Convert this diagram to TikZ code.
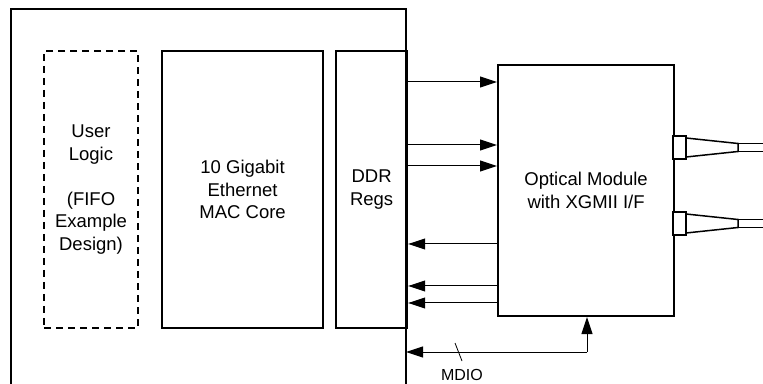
\documentclass[tikz,border=0pt]{standalone}
\usepackage{fontspec}
\setmainfont{Liberation Sans}
\usetikzlibrary{arrows.meta}
\begin{document}
\begin{tikzpicture}[x=1pt,y=1pt,
  blk/.style={draw,line width=2.2pt,inner sep=0pt,align=center,
    font=\fontsize{18.5}{22.5}\selectfont},
  dblk/.style={blk,dashed,line width=2pt,dash pattern=on 7pt off 5pt},
  sig/.style={line width=1pt,-{Triangle[length=17pt,width=11pt]}},
  lbl/.style={font=\fontsize{16}{19}\selectfont,inner sep=0pt}]
\useasboundingbox (0,0) rectangle (763,383);
% outer FPGA box
\draw[line width=2.2pt] (11,-5) -- (11,374) -- (406,374) -- (406,-5);
% blocks
\node[dblk,minimum width=94pt,minimum height=277pt,anchor=south west] (user) at (43,54)
  {User\\Logic\\\\(FIFO\\Example\\Design)};
\node[blk,minimum width=161pt,minimum height=277pt,anchor=south west] (mac) at (161,54)
  {10 Gigabit\\Ethernet\\MAC Core};
\node[blk,minimum width=71pt,minimum height=277pt,anchor=south west] (ddr) at (335,54)
  {DDR\\Regs};
\node[blk,minimum width=176pt,minimum height=251pt,anchor=south west] (opt) at (497,66)
  {Optical Module\\with XGMII I/F};
% signals to module
\draw[sig] (ddr.east |- 0,301) -- (opt.west |- 0,301);
\draw[sig] (ddr.east |- 0,238) -- (opt.west |- 0,238);
\draw[sig] (ddr.east |- 0,217) -- (opt.west |- 0,217);
% signals from module
\draw[sig] (opt.west |- 0,139) -- (ddr.east |- 0,139);
\draw[sig] (opt.west |- 0,97) -- (ddr.east |- 0,97);
\draw[sig] (opt.west |- 0,80) -- (ddr.east |- 0,80);
% MDIO
\coordinate (mdioL) at (406,31);
\coordinate (mdioC) at (587,31);
\draw[sig] (mdioC) -- (mdioL);
\draw[sig] (mdioC) -- (opt.south -| mdioC);
\draw[line width=0.8pt] (455,40) -- (462,22);
\node[lbl,anchor=base] (mdio) at (462,2.5) {MDIO};
% fibre connectors
\foreach \yc/\nm in {235.5/up, 159.5/lo}{
  \draw[line width=1.5pt,fill=white] (673,\yc-11.5) rectangle (686,\yc+11.5);
  \draw[line width=1.5pt] (686,\yc+9.5) -- (738,\yc+4) -- (738,\yc-4) -- (686,\yc-9.5);
  \draw[line width=1.5pt] (770,\yc+4) -- (738,\yc+4);
  \draw[line width=1.5pt] (770,\yc-4) -- (738,\yc-4);
}
\end{tikzpicture}
\end{document}
